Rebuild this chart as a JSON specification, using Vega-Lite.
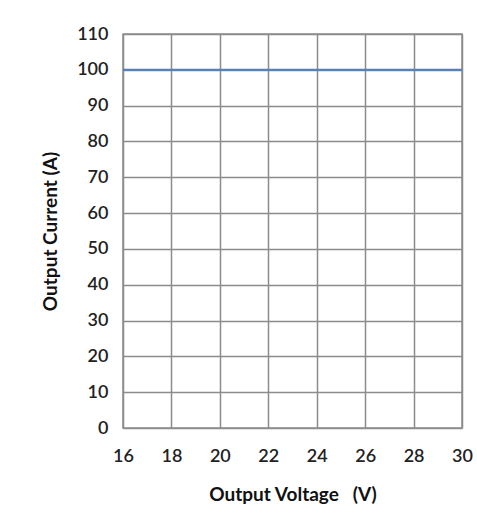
{
  "$schema": "https://vega.github.io/schema/vega-lite/v6.json",
  "autosize": "none",
  "width": 339,
  "height": 394,
  "padding": {"left": 123, "top": 34, "right": 15, "bottom": 103},
  "background": "white",
  "config": {
    "view": {"stroke": "#8c8c8c", "strokeWidth": 1.5},
    "font": "Lato",
    "axis": {
      "gridColor": "#8c8c8c",
      "gridWidth": 1.5,
      "gridOpacity": 1,
      "domain": false,
      "ticks": false,
      "labelFont": "Lato",
      "labelFontSize": 18,
      "labelFontWeight": 600,
      "labelColor": "#222222",
      "titleFont": "Lato",
      "titleFontSize": 19,
      "titleFontWeight": "bold",
      "titleColor": "#111111"
    }
  },
  "data": {"values": [
    {"voltage": 16, "current": 100},
    {"voltage": 30, "current": 100}
  ]},
  "mark": {"type": "line", "color": "#4f81bd", "strokeWidth": 2},
  "encoding": {
    "x": {
      "field": "voltage", "type": "quantitative",
      "scale": {"domain": [16, 30], "nice": false, "zero": false},
      "axis": {"values": [16, 18, 20, 22, 24, 26, 28, 30], "title": "Output Voltage \u00a0\u00a0(V)", "labelPadding": 19, "titlePadding": 20, "labelFlush": false}
    },
    "y": {
      "field": "current", "type": "quantitative",
      "scale": {"domain": [0, 110], "nice": false},
      "axis": {"values": [0, 10, 20, 30, 40, 50, 60, 70, 80, 90, 100, 110], "title": "Output Current (A)", "labelPadding": 15, "titlePadding": 16, "labelFlush": false}
    }
  }
}
